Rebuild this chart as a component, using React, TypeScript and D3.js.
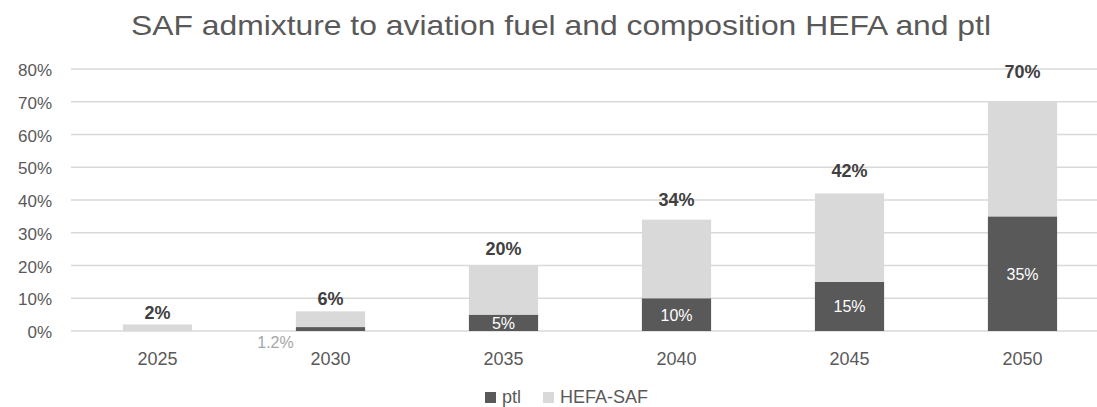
import React from "react";
import * as d3 from "d3";

const years = ["2025", "2030", "2035", "2040", "2045", "2050"];
const ptl = [0, 1.2, 5, 10, 15, 35];
const hefa = [2, 4.8, 15, 24, 27, 35];
const totals = [2, 6, 20, 34, 42, 70];
const yTicks = [0, 10, 20, 30, 40, 50, 60, 70, 80];
const seriesNames = ["ptl", "HEFA-SAF"];
const colors = ["#595959", "#D9D9D9"];

export default function App() {
  const W = 1097, H = 407;
  const x = d3.scaleBand().domain(years).range([71, 71 + 173 * 6]).paddingInner(0.6).paddingOuter(0.3);
  const y = d3.scaleLinear().domain([0, 80]).range([331, 69]);
  const rows = years.map((yr, i) => ({ yr, ptl: ptl[i], hefa: hefa[i] }));
  const stack = d3.stack<any>().keys(["ptl", "hefa"])(rows);
  const font = "'Liberation Sans', Arial, sans-serif";
  return (
    <svg width={W} height={H} style={{ position: "absolute", left: 0, top: 0, background: "#fff" }} fontFamily={font}>
      <text x={561} y={35} textAnchor="middle" fontSize={28} fill="#595959" textLength={860} lengthAdjust="spacingAndGlyphs">
        SAF admixture to aviation fuel and composition HEFA and ptl
      </text>
      {yTicks.map((t) => (
        <g key={t}>
          <line x1={71} x2={1097} y1={y(t)} y2={y(t)} stroke="#D9D9D9" strokeWidth={1.3} />
          <text x={52} y={y(t) + 7} textAnchor="end" fontSize={17} fill="#595959">{t}%</text>
        </g>
      ))}
      {stack.map((s, si) =>
        s.map((d, i) => (
          <rect key={si + "-" + i} x={x(years[i])} width={x.bandwidth()} y={y(d[1])} height={y(d[0]) - y(d[1])} fill={colors[si]} />
        ))
      )}
      {years.map((yr) => (
        <text key={"yl" + yr} x={(x(yr) as number) + x.bandwidth() / 2} y={365} textAnchor="middle" fontSize={18} fill="#595959">{yr}</text>
      ))}
      {years.map((yr, i) => (
        <text key={"tl" + yr} x={(x(yr) as number) + x.bandwidth() / 2} y={y(totals[i] * 1.08) - 5} textAnchor="middle" fontSize={18} fontWeight="bold" fill="#404040">{totals[i]}%</text>
      ))}
      {years.map((yr, i) => {
        if (ptl[i] === 0) return null;
        const cx = (x(yr) as number) + x.bandwidth() / 2;
        if (ptl[i] < 3) {
          return <text key={"pl" + yr} x={cx - 55} y={348} textAnchor="middle" fontSize={16} fill="#A6A6A6">{ptl[i]}%</text>;
        }
        return <text key={"pl" + yr} x={cx} y={(y(ptl[i]) + y(0)) / 2 + 6} textAnchor="middle" fontSize={16} fill="#FFFFFF">{ptl[i]}%</text>;
      })}
      {seriesNames.map((n, i) => {
        const lx = [485, 543][i];
        return (
          <g key={n}>
            <rect x={lx} y={392} width={11} height={11} fill={colors[i]} />
            <text x={lx + 17} y={403} fontSize={18} fill="#595959">{n}</text>
          </g>
        );
      })}
    </svg>
  );
}
